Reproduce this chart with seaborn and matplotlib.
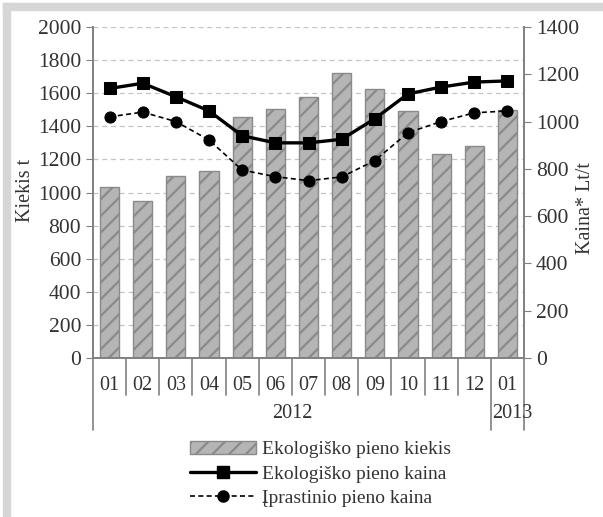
import numpy as np
import pandas as pd
import seaborn as sns
import matplotlib.pyplot as plt
from matplotlib.patches import Patch, Rectangle
from matplotlib.lines import Line2D

sns.set_style("white")
plt.rcParams['font.family'] = ['Liberation Serif', 'DejaVu Serif']
plt.rcParams['hatch.linewidth'] = 1.6
plt.rcParams['hatch.color'] = '#8a8a8a'

# data (2012-01 .. 2013-01)
months = ["01", "02", "03", "04", "05", "06", "07", "08", "09", "10", "11", "12", "01"]
years = ["2012", "2013"]
eco_qty = [1035, 950, 1100, 1130, 1455, 1505, 1580, 1720, 1625, 1495, 1230, 1280, 1500]
eco_price = [1140, 1162, 1105, 1045, 940, 910, 910, 925, 1012, 1117, 1146, 1167, 1172]
conv_price = [1020, 1040, 1000, 922, 795, 767, 750, 766, 835, 953, 1000, 1037, 1045]

df = pd.DataFrame({"pos": np.arange(len(months)),
                   "qty": eco_qty,
                   "eco": eco_price,
                   "conv": conv_price})

fig = plt.figure(figsize=(6.03, 5.17), dpi=100)
ax = fig.add_axes([93/603, 1-358/517, 431/603, 331/517])

sns.barplot(data=df, x="pos", y="qty", ax=ax, width=0.58,
            color="#b5b5b5", saturation=1, edgecolor="#8a8a8a",
            linewidth=1.0, hatch="//", zorder=2)

ax.set_ylim(0, 2000)
ax.set_yticks(range(0, 2001, 200))
ax.set_xlim(-0.5, 12.5)
ax.yaxis.grid(True, color="#c4c4c4", linestyle=(0, (4, 3)), linewidth=0.9, zorder=0)
ax.set_axisbelow(True)
ax.set_xlabel("")
ax.set_ylabel("")
ax.set_xticks(df["pos"])
ax.set_xticklabels(months)
ax.tick_params(axis="x", length=0, pad=13, labelsize=14.5, labelcolor="#333333")
ax.tick_params(axis="y", length=5, direction="out", labelsize=15.5,
               labelcolor="#333333", color="#808080", left=True)

ax2 = ax.twinx()
sns.lineplot(data=df, x="pos", y="eco", ax=ax2, color="black", linewidth=2.4,
             marker="s", markersize=8, markeredgecolor="black", zorder=4)
sns.lineplot(data=df, x="pos", y="conv", ax=ax2, color="black", linewidth=1.2,
             linestyle=(0, (3, 2)), marker="o", markersize=8,
             markeredgecolor="black", zorder=4)
ax2.set_ylim(0, 1400)
ax2.set_yticks(range(0, 1401, 200))
ax2.set_ylabel("")
ax2.tick_params(axis="y", length=5, direction="out", labelsize=15.5,
                labelcolor="#333333", color="#808080", right=True)

for a in (ax, ax2):
    a.spines["top"].set_visible(False)
    for s in ("left", "right", "bottom"):
        a.spines[s].set_color("#808080")
        a.spines[s].set_linewidth(1.2)

# category separators below the axis
tr = ax.get_xaxis_transform()
for k in range(len(months) + 1):
    x = k - 0.5
    low = -0.2175 if k in (0, 12, 13) else -0.112
    ax.plot([x, x], [0, low], transform=tr, color="#808080", lw=1.2, clip_on=False)

ax.text(5.5, -0.169, years[0], transform=tr, ha="center", va="center",
        fontsize=14.5, color="#333333")
ax.text(12.15, -0.169, years[1], transform=tr, ha="center", va="center",
        fontsize=14.5, color="#333333")

fig.text(25/603, 1-190/517, "Kiekis t", rotation=90, ha="center", va="center",
         fontsize=14.5, color="#333333")
fig.text(586/603, 1-208/517, "Kaina* Lt/t", rotation=90, ha="center", va="center",
         fontsize=14.5, color="#333333")

handles = [
    Patch(facecolor="#b5b5b5", edgecolor="#8a8a8a", hatch="//", linewidth=1.0),
    Line2D([], [], color="black", lw=2.4, marker="s", markersize=8),
    Line2D([], [], color="black", lw=1.2, linestyle=(0, (3, 2)), marker="o", markersize=8),
]
labels = ["Ekologiško pieno kiekis", "Ekologiško pieno kaina", "Įprastinio pieno kaina"]
fig.legend(handles, labels, loc="upper left", bbox_to_anchor=(182/603, 1-433/517),
           frameon=False, fontsize=14, handlelength=3.4, handletextpad=0.3,
           labelspacing=0.35, borderaxespad=0, labelcolor="#333333")

# light grey frame at top and left
fig.add_artist(Rectangle((3/603, 0), 7/603, 1-3/517, transform=fig.transFigure,
                         color="#d6d6d6", zorder=0))
fig.add_artist(Rectangle((3/603, 1-10/517), 1, 7/517, transform=fig.transFigure,
                         color="#d6d6d6", zorder=0))

fig.savefig("out.png", dpi=100)
